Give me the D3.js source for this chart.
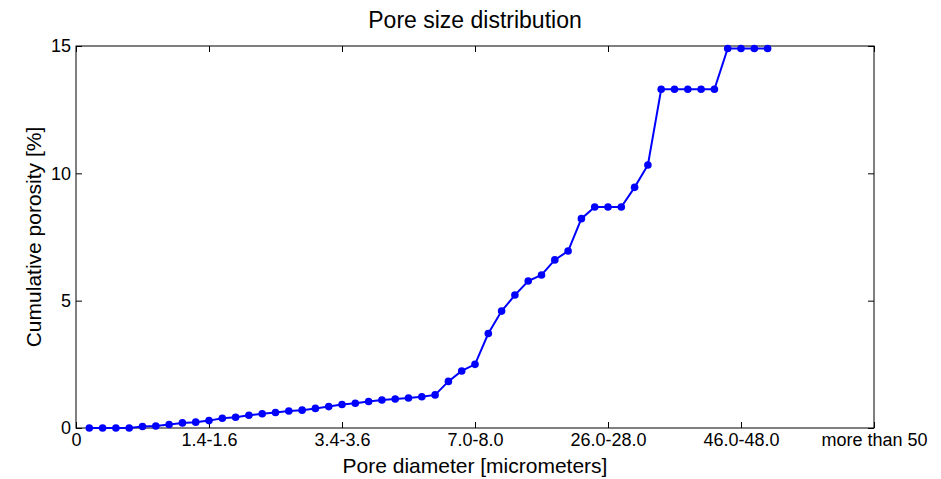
<!DOCTYPE html>
<html lang="en">
  <head>
    <meta charset="UTF-8" />
    <title>Pore size distribution</title>
    <script src="https://d3js.org/d3.v7.min.js"></script>
    <style>
      body { margin: 0; background: #fff; }
      text { font-family: "Liberation Sans", Arial, sans-serif; fill: #000; }
    </style>
  </head>
  <body>
    <svg width="941" height="479"></svg>
    <script>
      // tick labels of the pore classes (every 10th class gets a label)
      const classTicks = [0, 10, 20, 30, 40, 50, 60];
      const classLabels = ["0", "1.4-1.6", "3.4-3.6", "7.0-8.0", "26.0-28.0", "46.0-48.0", "more than 50"];
      const porosityTicks = [0, 5, 10, 15];

      // cumulative porosity [%] for classes 1..52
      const porosity = [
        0, 0, 0, 0, 0.06, 0.08, 0.14, 0.2, 0.23, 0.29,
        0.38, 0.42, 0.5, 0.56, 0.61, 0.67, 0.7, 0.77, 0.84, 0.92,
        0.97, 1.04, 1.1, 1.14, 1.18, 1.23, 1.3, 1.83, 2.24, 2.5,
        3.71, 4.59, 5.22, 5.77, 6.01, 6.6, 6.95, 8.22, 8.68, 8.68,
        8.68, 9.45, 10.33, 13.3, 13.3, 13.3, 13.3, 13.3, 14.9, 14.9,
        14.9, 14.9
      ];

      const margin = { top: 46, right: 67, bottom: 51, left: 76 };
      const svg = d3.select("svg");
      const width = +svg.attr("width") - margin.left - margin.right;
      const height = +svg.attr("height") - margin.top - margin.bottom;

      const g = svg.append("g")
        .attr("transform", `translate(${margin.left},${margin.top})`);

      const x = d3.scaleLinear().domain([0, 60]).range([0, width]);
      const y = d3.scaleLinear().domain([0, 15]).range([height, 0]);

      // axes (ticks pointing inward, mirrored on top/right like matlab)
      const xAxis = g.append("g")
        .attr("transform", `translate(0,${height})`)
        .call(d3.axisBottom(x).tickValues(classTicks)
          .tickFormat((d, i) => classLabels[i]).tickSizeInner(-6).tickSizeOuter(0).tickPadding(5));
      xAxis.selectAll("text").attr("font-size", 18);

      g.append("g")
        .call(d3.axisTop(x).tickValues(classTicks).tickFormat("").tickSizeInner(-6).tickSizeOuter(0));

      const yAxis = g.append("g")
        .call(d3.axisLeft(y).tickValues(porosityTicks).tickSizeInner(-6).tickSizeOuter(0).tickPadding(5));
      yAxis.selectAll("text").attr("font-size", 18);

      g.append("g")
        .attr("transform", `translate(${width},0)`)
        .call(d3.axisRight(y).tickValues(porosityTicks).tickFormat("").tickSizeInner(-6).tickSizeOuter(0));

      g.selectAll(".domain").remove();
      g.selectAll(".tick line").attr("stroke", "#000");
      g.selectAll(".tick text").attr("fill", "#000").attr("font-family", "Liberation Sans, Arial, sans-serif");

      g.append("rect")
        .attr("width", width).attr("height", height)
        .attr("fill", "none").attr("stroke", "#000").attr("stroke-width", 1);

      // the curve
      const line = d3.line()
        .x((d, i) => x(i + 1))
        .y(d => y(d));

      g.append("path")
        .datum(porosity)
        .attr("fill", "none")
        .attr("stroke", "#0000ff")
        .attr("stroke-width", 2)
        .attr("d", line);

      g.selectAll(".dot").data(porosity).enter().append("circle")
        .attr("class", "dot")
        .attr("cx", (d, i) => x(i + 1))
        .attr("cy", d => y(d))
        .attr("r", 3.8)
        .attr("fill", "#0000ff");

      // titles
      svg.append("text")
        .attr("x", margin.left + width / 2).attr("y", 28)
        .attr("text-anchor", "middle").attr("font-size", 23)
        .text("Pore size distribution");

      svg.append("text")
        .attr("x", margin.left + width / 2).attr("y", 473)
        .attr("text-anchor", "middle").attr("font-size", 21)
        .text("Pore diameter [micrometers]");

      svg.append("text")
        .attr("transform", `translate(41,${margin.top + height / 2}) rotate(-90)`)
        .attr("text-anchor", "middle").attr("font-size", 21)
        .text("Cumulative porosity [%]");
    </script>
  </body>
</html>
